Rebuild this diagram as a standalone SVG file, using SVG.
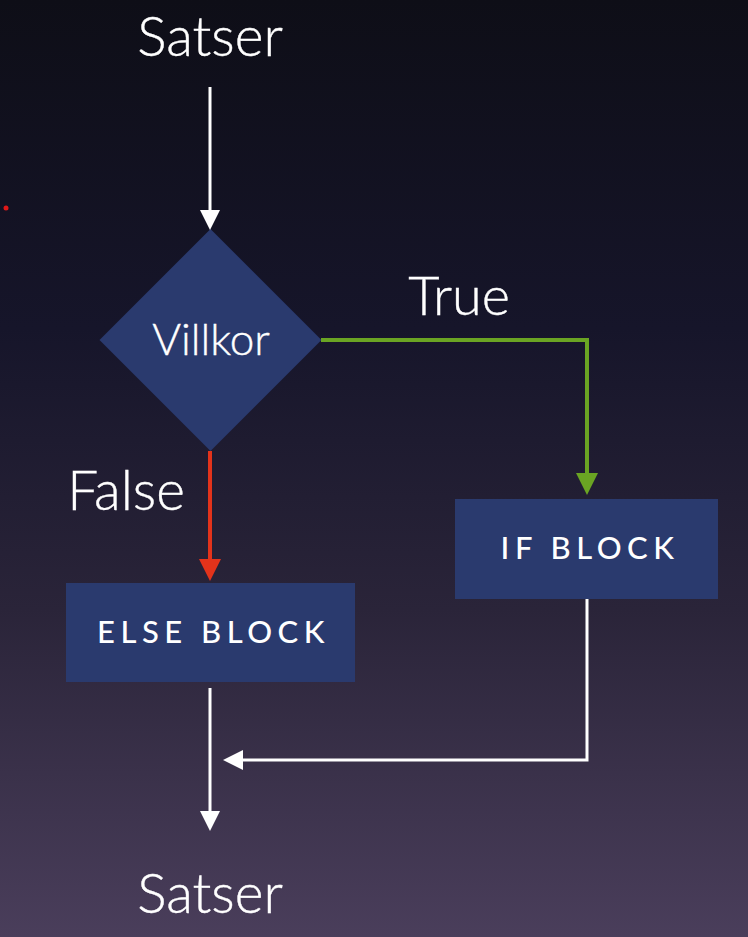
<svg xmlns="http://www.w3.org/2000/svg" width="748" height="937" viewBox="0 0 748 937">
  <defs>
    <linearGradient id="bg" x1="0" y1="0" x2="0" y2="1">
      <stop offset="0" stop-color="#0e0e17"/>
      <stop offset="0.35" stop-color="#16152a"/>
      <stop offset="0.65" stop-color="#2a2439"/>
      <stop offset="1" stop-color="#4a3e5b"/>
    </linearGradient>
    <marker id="hw" viewBox="0 0 20 20" markerUnits="userSpaceOnUse" markerWidth="20" markerHeight="20" refX="0" refY="10" orient="auto">
      <path d="M0,0 L20,10 L0,20 z" fill="#ffffff"/>
    </marker>
    <marker id="hg" viewBox="0 0 22 22" markerUnits="userSpaceOnUse" markerWidth="22" markerHeight="22" refX="0" refY="11" orient="auto">
      <path d="M0,0 L22,11 L0,22 z" fill="#6aa423"/>
    </marker>
    <marker id="hr" viewBox="0 0 22 22" markerUnits="userSpaceOnUse" markerWidth="22" markerHeight="22" refX="0" refY="11" orient="auto">
      <path d="M0,0 L22,11 L0,22 z" fill="#e3331b"/>
    </marker>
  </defs>
  <style>
    .lbl { font-family: Lato, "Open Sans", "Liberation Sans", sans-serif; fill: #ffffff; font-weight: 300; stroke: #ffffff; stroke-width: 0.4; }
    .blk { font-family: Lato, "Open Sans", "Liberation Sans", sans-serif; fill: #ffffff; font-weight: 500; font-size: 31px; letter-spacing: 5.5px; }
    .shape { fill: #2a3a6e; }
    .w { stroke: #ffffff; stroke-width: 3; fill: none; }
    .g { stroke: #6aa423; stroke-width: 4; fill: none; }
    .r { stroke: #e3331b; stroke-width: 4; fill: none; }
  </style>
  <rect x="0" y="0" width="748" height="937" fill="url(#bg)"/>
  <circle cx="6" cy="208" r="2.5" fill="#e01818"/>

  <g id="start">
    <text class="lbl" x="210" y="56" font-size="55" text-anchor="middle">Satser</text>
  </g>
  <g id="condition">
    <polygon class="shape" points="210.5,229 321.5,340 210.5,451 99.5,340"/>
    <text class="lbl" x="211" y="355" font-size="44" text-anchor="middle">Villkor</text>
  </g>
  <g id="if-block">
    <rect class="shape" x="455" y="499" width="263" height="100"/>
    <text class="blk" x="590" y="559" text-anchor="middle">IF BLOCK</text>
  </g>
  <g id="else-block">
    <rect class="shape" x="66" y="583" width="289" height="99"/>
    <text class="blk" x="213.5" y="643" text-anchor="middle">ELSE BLOCK</text>
  </g>
  <g id="end">
    <text class="lbl" x="210" y="913" font-size="55" text-anchor="middle">Satser</text>
  </g>
  <g id="labels">
    <text class="lbl" x="459" y="315" font-size="54" text-anchor="middle">True</text>
    <text class="lbl" x="126" y="510" font-size="55" text-anchor="middle">False</text>
  </g>

  <g id="connectors">
    <line class="w" x1="210" y1="87" x2="210" y2="210" marker-end="url(#hw)"/>
    <polyline class="g" points="321,340 587,340 587,473" marker-end="url(#hg)"/>
    <line class="r" x1="210" y1="451" x2="210" y2="559" marker-end="url(#hr)"/>
    <polyline class="w" points="587,599 587,760 243,760" marker-end="url(#hw)"/>
    <line class="w" x1="210" y1="688" x2="210" y2="811" marker-end="url(#hw)"/>
  </g>
</svg>
